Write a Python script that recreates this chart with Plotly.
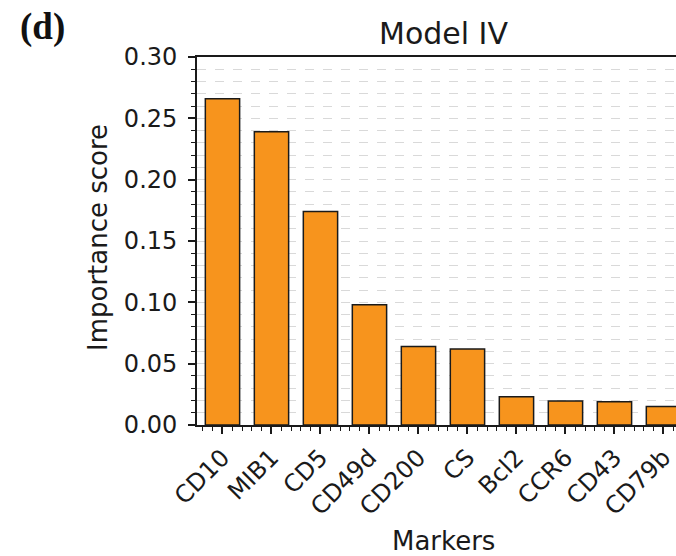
import plotly.graph_objects as go

markers = ["CD10", "MIB1", "CD5", "CD49d", "CD200", "CS", "Bcl2", "CCR6", "CD43", "CD79b"]
scores = [0.266, 0.239, 0.174, 0.098, 0.064, 0.062, 0.023, 0.0195, 0.019, 0.015]
yticks = [0.00, 0.05, 0.10, 0.15, 0.20, 0.25, 0.30]

L, T, B = 197, 57, 131
W, H = 676, 556
idx = list(range(len(markers)))

fig = go.Figure(go.Bar(
    x=idx, y=scores, width=0.7,
    marker=dict(color="#F7941D", line=dict(color="#1a1a1a", width=1.5)),
))

axis_font = dict(family="DejaVu Sans", size=24, color="#1a1a1a")
fig.update_layout(
    width=W, height=H,
    margin=dict(l=L, r=0, t=T, b=B),
    plot_bgcolor="white", paper_bgcolor="white",
    showlegend=False,
)
fig.update_xaxes(
    range=[-0.52, 9.256],
    tickmode="array", tickvals=idx, ticktext=markers, tickangle=-45,
    ticklabeloverflow="allow",
    tickfont=axis_font, ticks="outside", ticklen=7, tickwidth=1.5, tickcolor="#1a1a1a",
    showline=True, linecolor="#1a1a1a", linewidth=1.8, mirror=True,
    showgrid=False, zeroline=False,
    minor=dict(tickmode="linear", ticks="outside", ticklen=4, tickwidth=1.2,
               tickcolor="#1a1a1a", dtick=0.2, tick0=0, showgrid=False),
)
fig.update_yaxes(
    range=[0, 0.30],
    tickmode="array", tickvals=yticks, ticktext=[f"{v:.2f}" for v in yticks],
    tickfont=axis_font, ticks="outside", ticklen=7, tickwidth=1.5, tickcolor="#1a1a1a",
    ticklabelstandoff=6,
    showline=True, linecolor="#1a1a1a", linewidth=1.8, mirror=False,
    showgrid=True, gridcolor="#d9d9d9", griddash="dash", gridwidth=1,
    zeroline=False,
    minor=dict(tickmode="linear", ticks="outside", ticklen=4, tickwidth=1.2,
               tickcolor="#1a1a1a", dtick=0.01, tick0=0, showgrid=True,
               gridcolor="#d9d9d9", griddash="dash", gridwidth=1),
)

cx = (443 - L) / (W - L)
fig.add_annotation(text="Model IV", xref="paper", yref="paper",
                   x=cx, y=1, yshift=24, showarrow=False,
                   font=dict(family="DejaVu Sans", size=30, color="#1a1a1a"),
                   xanchor="center", yanchor="middle")
fig.add_annotation(text="Markers", xref="paper", yref="paper",
                   x=cx, y=0, yshift=-(541 - 425), showarrow=False,
                   font=dict(family="DejaVu Sans", size=26, color="#1a1a1a"),
                   xanchor="center", yanchor="middle")
fig.add_annotation(text="Importance score", xref="paper", yref="paper",
                   x=0, xshift=-(L - 98), y=(425 - 238) / (425 - 57), showarrow=False,
                   textangle=-90,
                   font=dict(family="DejaVu Sans", size=26, color="#1a1a1a"),
                   xanchor="center", yanchor="middle")
fig.add_annotation(text="<b>(d)</b>", xref="paper", yref="paper",
                   x=0, xshift=-(L - 42), y=1, yshift=(57 - 27), showarrow=False,
                   font=dict(family="Liberation Serif", size=37, color="#111111"),
                   xanchor="center", yanchor="middle")

fig.write_html("out.html")
